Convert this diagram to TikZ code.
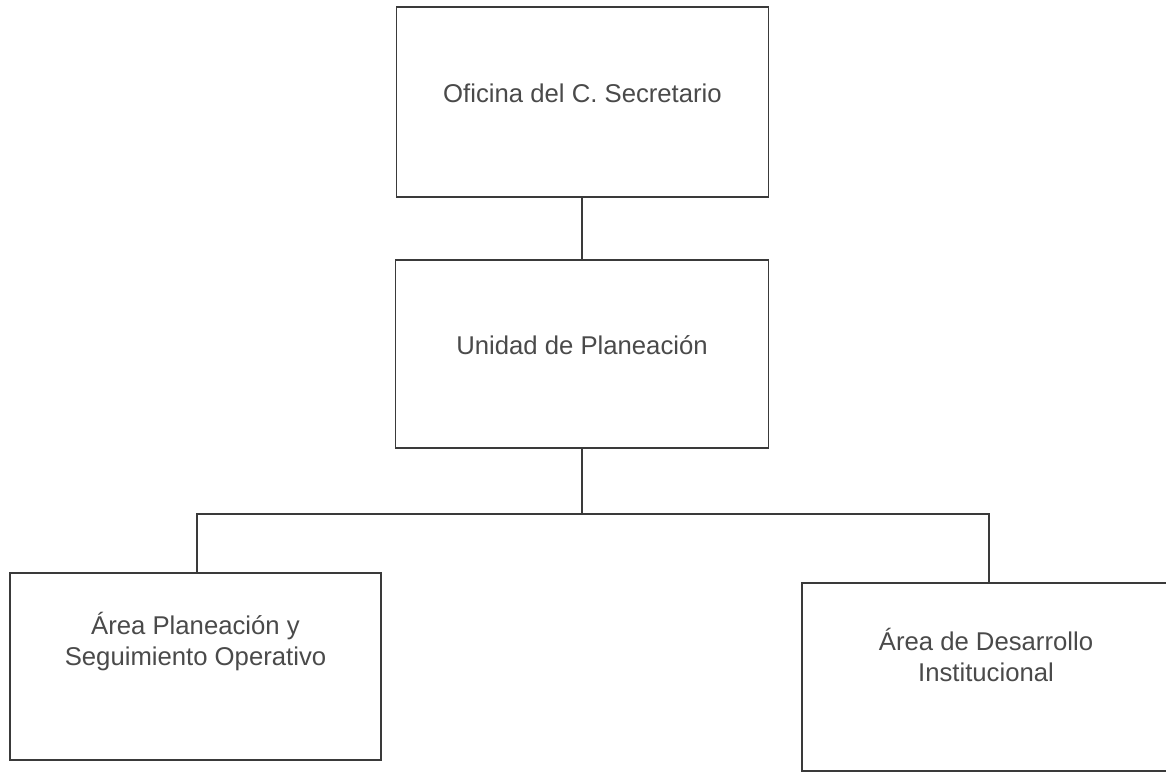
\documentclass[tikz,border=0pt]{standalone}
\usepackage{fontspec}
\setmainfont{Liberation Sans}
\usetikzlibrary{calc}
\definecolor{edge}{HTML}{3A3A3A}
\definecolor{ink}{HTML}{4A4A4A}
\begin{document}
\begin{tikzpicture}[x=1pt,y=-1pt,
  unitbox/.style={draw=edge,line width=1.8pt,rectangle,inner sep=0pt},
  label/.style={text=ink,font=\fontsize{25.7}{31}\selectfont,align=center,inner sep=0pt},
  link/.style={draw=edge,line width=1.8pt}]
\useasboundingbox[fill=white] (0,0) rectangle (1166,774);

% boxes
\node[unitbox,minimum width=372pt,minimum height=190pt] (sec) at (582.5,102) {};
\node[unitbox,minimum width=373pt,minimum height=188pt] (plan) at (582,354) {};
\node[unitbox,minimum width=371pt,minimum height=187pt] (pso) at (195.5,666.5) {};
\node[unitbox,minimum width=368pt,minimum height=188pt] (adi) at (986,677) {};

% texts
\node[label] (tsec) at ($(sec.center)+(0,-9)$) {Oficina del C. Secretario};
\node[label] (tplan) at ($(plan.center)+(0,-9)$) {Unidad de Planeación};
\node[label] (tpso) at ($(pso.center)+(0,-25)$) {Área Planeación y\\Seguimiento Operativo};
\node[label] (tadi) at ($(adi.center)+(0,-22)$) {Área de Desarrollo\\Institucional};

% connectors
\coordinate (bus) at (582,514);
\draw[link] (plan.north) -- (plan.north |- sec.south);
\draw[link] (plan.south) -- (bus);
\draw[link] (pso.north -| 197,0) |- (bus) -| (adi.north -| 989,0);
\end{tikzpicture}
\end{document}
